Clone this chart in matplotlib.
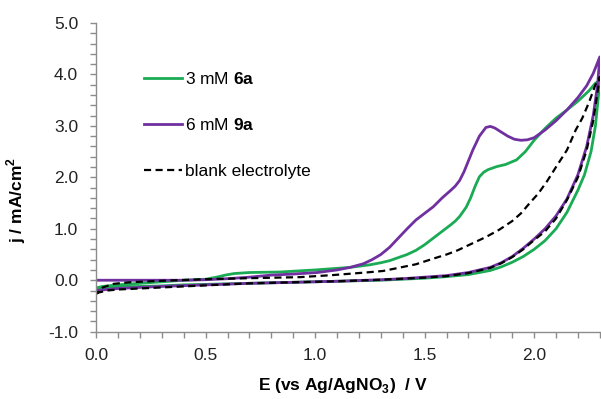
import matplotlib
matplotlib.use("Agg")
import matplotlib.pyplot as plt
from matplotlib.ticker import MultipleLocator, FormatStrFormatter

plt.rcParams['font.family'] = ['Liberation Sans', 'DejaVu Sans']
plt.rcParams['mathtext.fontset'] = 'custom'
plt.rcParams['mathtext.rm'] = 'Liberation Sans'
plt.rcParams['mathtext.bf'] = 'Liberation Sans:bold'
plt.rcParams['axes.unicode_minus'] = False

# ---- data: 3 mM 6a (green) ----
g_fwd_E = [0.0, 0.1, 0.2, 0.3, 0.4, 0.5, 0.6, 0.7, 0.8, 0.9, 1.0, 1.1, 1.2, 1.3, 1.4, 1.5, 1.6, 1.7,
           1.8, 1.85, 1.9, 1.95, 2.0, 2.05, 2.1, 2.15, 2.2, 2.23, 2.26, 2.28, 2.3]
g_fwd_j = [-0.17, -0.14, -0.12, -0.11, -0.09, -0.08, -0.07, -0.06, -0.05, -0.04, -0.03, -0.02, -0.01, 0.0, 0.02, 0.04, 0.07, 0.11,
           0.19, 0.26, 0.35, 0.46, 0.6, 0.77, 1.0, 1.32, 1.75, 2.05, 2.5, 3.0, 3.85]
g_rev_E = [2.3, 2.28, 2.25, 2.2, 2.15, 2.1, 2.05, 2.0, 1.96, 1.92, 1.87, 1.83, 1.79, 1.77, 1.75, 1.73, 1.71, 1.69,
           1.66, 1.64, 1.62, 1.58, 1.54, 1.5, 1.46, 1.42, 1.38, 1.34, 1.3, 1.25, 1.16, 1.0, 0.84, 0.7, 0.63, 0.59,
           0.55, 0.5, 0.4, 0.3, 0.2, 0.1, 0.03, 0.0]
g_rev_j = [3.88, 3.83, 3.68, 3.48, 3.31, 3.15, 2.95, 2.72, 2.5, 2.34, 2.25, 2.21, 2.15, 2.1, 2.01, 1.82, 1.6, 1.42,
           1.24, 1.15, 1.08, 0.95, 0.82, 0.69, 0.58, 0.5, 0.44, 0.38, 0.34, 0.3, 0.25, 0.2, 0.16, 0.15, 0.13, 0.1,
           0.06, 0.02, 0.0, -0.03, -0.06, -0.09, -0.12, -0.15]

# ---- data: 6 mM 9a (purple) ----
p_fwd_E = [0.0, 0.1, 0.2, 0.3, 0.5, 0.7, 0.9, 1.1, 1.3, 1.4, 1.5, 1.6, 1.7, 1.8, 1.85, 1.9, 1.95, 2.0,
           2.05, 2.1, 2.15, 2.2, 2.24, 2.27, 2.29, 2.3]
p_fwd_j = [-0.2, -0.16, -0.14, -0.12, -0.09, -0.06, -0.04, -0.02, 0.01, 0.03, 0.06, 0.09, 0.15, 0.25, 0.34, 0.46, 0.62, 0.8,
           1.0, 1.25, 1.58, 2.05, 2.6, 3.2, 3.8, 4.34]
p_rev_E = [2.3, 2.27, 2.24, 2.2, 2.15, 2.1, 2.05, 2.0, 1.97, 1.94, 1.91, 1.88, 1.85, 1.82, 1.8, 1.78, 1.75, 1.72,
           1.7, 1.68, 1.66, 1.64, 1.62, 1.58, 1.54, 1.5, 1.46, 1.42, 1.38, 1.34, 1.3, 1.26, 1.22, 1.16, 1.1, 1.01, 0.9,
           0.8, 0.7, 0.6, 0.5, 0.4, 0.2, 0.0]
p_rev_j = [4.34, 4.02, 3.78, 3.55, 3.31, 3.1, 2.92, 2.77, 2.73, 2.72, 2.74, 2.8, 2.88, 2.96, 2.99, 2.97, 2.8, 2.53,
           2.32, 2.11, 1.94, 1.83, 1.75, 1.6, 1.43, 1.3, 1.17, 1.0, 0.82, 0.64, 0.5, 0.4, 0.32, 0.25, 0.2, 0.15, 0.12,
           0.1, 0.06, 0.03, 0.01, 0.0, 0.0, 0.0]

# ---- data: blank electrolyte (dashed) ----
b_fwd_E = [0.0, 0.05, 0.1, 0.3, 0.5, 0.7, 0.9, 1.1, 1.3, 1.4, 1.5, 1.6, 1.7, 1.8, 1.85, 1.9, 1.95, 2.0,
           2.05, 2.1, 2.15, 2.2, 2.24, 2.27, 2.3]
b_fwd_j = [-0.25, -0.2, -0.18, -0.14, -0.1, -0.06, -0.04, -0.02, 0.01, 0.03, 0.05, 0.08, 0.14, 0.24, 0.33, 0.45, 0.6, 0.78,
           0.95, 1.2, 1.56, 2.0, 2.53, 3.1, 3.95]
b_rev_E = [2.3, 2.28, 2.25, 2.22, 2.19, 2.15, 2.1, 2.06, 2.02, 1.98, 1.94, 1.9, 1.84, 1.78, 1.72, 1.65, 1.6, 1.54,
           1.46, 1.38, 1.31, 1.23, 1.08, 0.93, 0.7, 0.5, 0.3, 0.15, 0.08, 0.03, 0.0]
b_rev_j = [3.95, 3.8, 3.45, 3.15, 2.92, 2.53, 2.2, 1.93, 1.69, 1.5, 1.3, 1.15, 0.98, 0.84, 0.72, 0.58, 0.5, 0.42,
           0.31, 0.24, 0.18, 0.15, 0.1, 0.06, 0.04, 0.02, -0.01, -0.04, -0.07, -0.14, -0.27]

labels = ["3 mM $\\mathbf{6a}$", "6 mM $\\mathbf{9a}$", "blank electrolyte"]
colors = ["#1aab54", "#7030a0", "black"]

FS = 12.5

fig = plt.figure(figsize=(6.01, 3.99), dpi=100)
ax = fig.add_axes([0.16, 0.1687, 0.838, 0.7737])

ax.plot(g_fwd_E + g_rev_E, g_fwd_j + g_rev_j, color=colors[0], lw=2.0, label=labels[0], solid_joinstyle='round')
ax.plot(p_fwd_E + p_rev_E, p_fwd_j + p_rev_j, color=colors[1], lw=2.0, label=labels[1], solid_joinstyle='round')
ax.plot(b_fwd_E + b_rev_E, b_fwd_j + b_rev_j, color=colors[2], lw=1.6, ls=(0, (3.2, 2.0)), label=labels[2])

ax.set_xlim(0, 2.3)
ax.set_ylim(-1.0, 5.0)
ax.xaxis.set_major_locator(MultipleLocator(0.5))
ax.xaxis.set_minor_locator(MultipleLocator(0.1))
ax.yaxis.set_major_locator(MultipleLocator(1.0))
ax.yaxis.set_minor_locator(MultipleLocator(0.2))
ax.xaxis.set_major_formatter(FormatStrFormatter('%.1f'))
ax.yaxis.set_major_formatter(FormatStrFormatter('%.1f'))

for s in ['top', 'right']:
    ax.spines[s].set_visible(False)
for s in ['left', 'bottom']:
    ax.spines[s].set_color('#8c8c8c')
    ax.spines[s].set_linewidth(1.0)
ax.tick_params(axis='both', which='both', direction='out', color='#8c8c8c', width=1.0, labelsize=FS, labelcolor='#222222')
ax.tick_params(axis='x', which='both', length=4.5, pad=7)
ax.tick_params(axis='y', which='both', length=4, pad=9)

ax.set_xlabel("E (vs Ag/AgNO$_{\\mathbf{3}}$)  / V", fontsize=FS, fontweight='bold')
ax.set_ylabel("j / mA/cm$^{\\mathbf{2}}$", fontsize=FS, fontweight='bold')
ax.yaxis.set_label_coords(-0.135, 0.427)
ax.xaxis.set_label_coords(0.49, -0.145)

leg = ax.legend(loc='upper left', bbox_to_anchor=(0.239, 0.822), bbox_transform=fig.transFigure,
                frameon=False, fontsize=FS, handlelength=2.2, handletextpad=0.2,
                labelspacing=1.75, borderpad=0, borderaxespad=0)

fig.savefig("out.png", dpi=100)
